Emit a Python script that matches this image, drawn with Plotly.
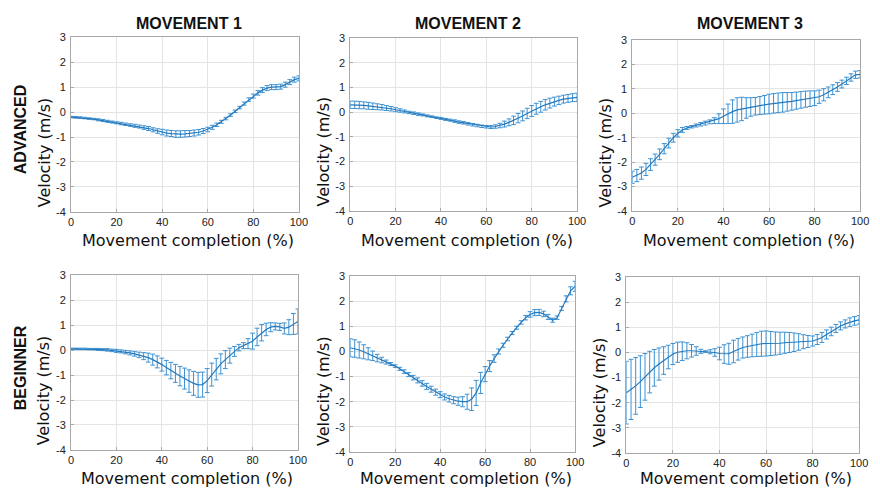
import plotly.graph_objects as go

# ---------------- data ----------------
PCT = [0, 2, 4, 6, 8, 10, 12, 14, 16, 18, 20, 22, 24, 26, 28, 30, 32, 34, 36, 38, 40,
       42, 44, 46, 48, 50, 52, 54, 56, 58, 60, 62, 64, 66, 68, 70, 72, 74, 76, 78, 80,
       82, 84, 86, 88, 90, 92, 94, 96, 98, 100]

MOVEMENTS = ["MOVEMENT 1", "MOVEMENT 2", "MOVEMENT 3"]
GROUPS = ["ADVANCED", "BEGINNER"]
X_TICKS = [0, 20, 40, 60, 80, 100]
Y_TICKS = [-4, -3, -2, -1, 0, 1, 2, 3]
Y_TICK_TEXT = ["-4", "-3", "-2", "-1", "0", "1", "2", "3"]

adv_m1_mean = [-0.20, -0.21, -0.22, -0.24, -0.26, -0.28, -0.31, -0.34, -0.37, -0.40, -0.43,
               -0.46, -0.49, -0.52, -0.55, -0.58, -0.62, -0.66, -0.71, -0.76, -0.80,
               -0.84, -0.86, -0.88, -0.88, -0.87, -0.86, -0.84, -0.81, -0.76, -0.70,
               -0.61, -0.51, -0.39, -0.26, -0.12, 0.03, 0.18, 0.34, 0.50, 0.64,
               0.77, 0.88, 0.96, 1.00, 1.00, 1.02, 1.10, 1.20, 1.30, 1.35]
adv_m1_sd = [0.03, 0.03, 0.03, 0.03, 0.03, 0.03, 0.04, 0.04, 0.04, 0.04, 0.04,
             0.05, 0.05, 0.05, 0.06, 0.06, 0.07, 0.08, 0.08, 0.09, 0.11,
             0.12, 0.12, 0.13, 0.13, 0.13, 0.12, 0.12, 0.11, 0.10, 0.09,
             0.08, 0.07, 0.06, 0.05, 0.05, 0.05, 0.05, 0.06, 0.07, 0.08,
             0.09, 0.10, 0.10, 0.10, 0.10, 0.10, 0.10, 0.10, 0.10, 0.10]

adv_m2_mean = [0.30, 0.30, 0.29, 0.28, 0.26, 0.24, 0.22, 0.20, 0.17, 0.14, 0.10,
               0.07, 0.03, -0.01, -0.04, -0.08, -0.11, -0.15, -0.18, -0.22, -0.25,
               -0.29, -0.32, -0.36, -0.40, -0.43, -0.47, -0.51, -0.54, -0.57, -0.59,
               -0.60, -0.58, -0.54, -0.48, -0.41, -0.33, -0.24, -0.15, -0.05, 0.05,
               0.14, 0.22, 0.30, 0.37, 0.43, 0.48, 0.53, 0.56, 0.59, 0.60]
adv_m2_sd = [0.15, 0.15, 0.15, 0.14, 0.14, 0.13, 0.12, 0.11, 0.10, 0.09, 0.08,
             0.07, 0.06, 0.05, 0.05, 0.05, 0.04, 0.04, 0.03, 0.03, 0.04,
             0.04, 0.04, 0.05, 0.05, 0.05, 0.05, 0.05, 0.05, 0.05, 0.05,
             0.06, 0.07, 0.09, 0.12, 0.14, 0.17, 0.19, 0.20, 0.21, 0.22,
             0.22, 0.22, 0.21, 0.20, 0.18, 0.17, 0.16, 0.16, 0.16, 0.17]

adv_m3_mean = [-2.62, -2.55, -2.45, -2.30, -2.10, -1.90, -1.68, -1.45, -1.22, -1.00, -0.82,
               -0.68, -0.60, -0.55, -0.50, -0.45, -0.40, -0.35, -0.30, -0.22, -0.12,
               -0.02, 0.07, 0.14, 0.18, 0.22, 0.26, 0.29, 0.32, 0.35, 0.38,
               0.41, 0.43, 0.45, 0.47, 0.49, 0.52, 0.55, 0.58, 0.60, 0.62,
               0.68, 0.76, 0.86, 0.97, 1.08, 1.20, 1.33, 1.47, 1.58, 1.60]
adv_m3_sd = [0.25, 0.25, 0.25, 0.25, 0.24, 0.23, 0.22, 0.21, 0.20, 0.18, 0.15,
             0.10, 0.06, 0.05, 0.06, 0.07, 0.08, 0.08, 0.12, 0.20, 0.30,
             0.40, 0.48, 0.50, 0.48, 0.42, 0.38, 0.36, 0.37, 0.38, 0.40,
             0.40, 0.40, 0.40, 0.38, 0.36, 0.35, 0.34, 0.33, 0.32, 0.30,
             0.27, 0.25, 0.22, 0.20, 0.18, 0.16, 0.15, 0.15, 0.15, 0.15]

beg_m1_mean = [0.05, 0.05, 0.05, 0.05, 0.04, 0.04, 0.03, 0.02, 0.01, -0.01, -0.03,
               -0.05, -0.08, -0.11, -0.15, -0.19, -0.24, -0.30, -0.38, -0.47, -0.58,
               -0.70, -0.82, -0.93, -1.04, -1.14, -1.24, -1.33, -1.39, -1.38, -1.22,
               -0.98, -0.76, -0.55, -0.38, -0.22, -0.05, 0.10, 0.18, 0.26, 0.36,
               0.53, 0.70, 0.83, 0.92, 0.95, 0.93, 0.87, 0.92, 1.05, 1.15]
beg_m1_sd = [0.03, 0.03, 0.03, 0.03, 0.03, 0.03, 0.04, 0.04, 0.05, 0.05, 0.06,
             0.06, 0.07, 0.08, 0.09, 0.11, 0.14, 0.18, 0.22, 0.24, 0.26,
             0.29, 0.33, 0.36, 0.39, 0.42, 0.45, 0.48, 0.50, 0.50, 0.48,
             0.46, 0.43, 0.40, 0.36, 0.30, 0.20, 0.13, 0.12, 0.20, 0.32,
             0.35, 0.33, 0.25, 0.18, 0.14, 0.14, 0.22, 0.30, 0.42, 0.50]

beg_m2_mean = [0.15, 0.12, 0.06, -0.01, -0.09, -0.17, -0.26, -0.34, -0.42, -0.50, -0.58,
               -0.69, -0.80, -0.92, -1.04, -1.15, -1.27, -1.39, -1.50, -1.62, -1.72,
               -1.81, -1.88, -1.94, -1.98, -2.00, -2.00, -1.90, -1.65, -1.25, -0.90,
               -0.58, -0.28, 0.00, 0.25, 0.50, 0.74, 0.95, 1.16, 1.35, 1.48,
               1.55, 1.56, 1.50, 1.38, 1.25, 1.35, 1.72, 2.10, 2.42, 2.60]
beg_m2_sd = [0.36, 0.35, 0.32, 0.28, 0.24, 0.19, 0.15, 0.11, 0.08, 0.06, 0.05,
             0.06, 0.07, 0.08, 0.09, 0.10, 0.11, 0.12, 0.12, 0.12, 0.12,
             0.12, 0.13, 0.14, 0.16, 0.20, 0.30, 0.45, 0.50, 0.42, 0.30,
             0.22, 0.15, 0.10, 0.08, 0.07, 0.06, 0.06, 0.07, 0.09, 0.11,
             0.12, 0.12, 0.11, 0.10, 0.08, 0.07, 0.08, 0.12, 0.16, 0.20]

beg_m3_mean = [-1.60, -1.47, -1.33, -1.16, -0.97, -0.78, -0.61, -0.46, -0.32, -0.18, -0.06,
               0.01, 0.05, 0.07, 0.07, 0.06, 0.05, 0.04, 0.03, 0.00, -0.04,
               -0.06, -0.05, 0.04, 0.13, 0.20, 0.24, 0.28, 0.32, 0.35, 0.36,
               0.36, 0.36, 0.37, 0.39, 0.40, 0.41, 0.42, 0.43, 0.44, 0.46,
               0.52, 0.60, 0.72, 0.84, 0.96, 1.06, 1.14, 1.21, 1.26, 1.30]
beg_m3_sd = [1.25, 1.20, 1.13, 1.03, 0.93, 0.83, 0.73, 0.64, 0.55, 0.47, 0.42,
             0.40, 0.37, 0.32, 0.25, 0.17, 0.08, 0.03, 0.08, 0.15, 0.25,
             0.37, 0.42, 0.45, 0.43, 0.42, 0.43, 0.45, 0.48, 0.50, 0.50,
             0.48, 0.46, 0.44, 0.42, 0.40, 0.37, 0.33, 0.28, 0.24, 0.20,
             0.20, 0.20, 0.18, 0.17, 0.16, 0.16, 0.16, 0.17, 0.17, 0.17]

MEANS = [[adv_m1_mean, adv_m2_mean, adv_m3_mean], [beg_m1_mean, beg_m2_mean, beg_m3_mean]]
SDS = [[adv_m1_sd, adv_m2_sd, adv_m3_sd], [beg_m1_sd, beg_m2_sd, beg_m3_sd]]

# ---------------- layout geometry (pixels) ----------------
W, H = 880, 494
# panel boxes: (left, right, top, bottom)
BOXES = [[(69, 300, 32, 211), (352, 582, 33, 210), (638, 869, 35, 210)],
         [(69, 299, 276, 455), (352, 580, 277, 457), (632, 868, 278, 458)]]
XTITLE_Y = [240, 484]

LINE_COLOR = "#2479bd"
ERR_COLOR = "#3d91d2"
AX_FONT = "DejaVu Sans"
TICK_FONT = "Liberation Sans, Arial, sans-serif"

fig = go.Figure()
layout = dict(width=W, height=H, margin=dict(l=0, r=0, t=0, b=0),
              paper_bgcolor="white", plot_bgcolor="white", showlegend=False)
annotations = []

idx = 0
for r in range(2):
    for c in range(3):
        idx += 1
        xa = "x" if idx == 1 else f"x{idx}"
        ya = "y" if idx == 1 else f"y{idx}"
        l, rt, t, b = BOXES[r][c]
        fig.add_trace(go.Scatter(
            x=PCT, y=MEANS[r][c], xaxis=xa, yaxis=ya, mode="lines",
            line=dict(color=LINE_COLOR, width=1.2),
            error_y=dict(type="data", array=SDS[r][c], visible=True,
                         color=ERR_COLOR, thickness=1, width=2.4),
        ))
        axcommon = dict(showgrid=True, gridcolor="#e4e4e4", gridwidth=1,
                        showline=True, linecolor="#a8a8a8", linewidth=1, mirror=True,
                        ticks="inside", ticklen=3, tickcolor="#a8a8a8", zeroline=False,
                        tickfont=dict(family=TICK_FONT, size=11, color="#222"))
        layout["xaxis" if idx == 1 else f"xaxis{idx}"] = dict(
            axcommon, domain=[l / W, rt / W], range=[0, 100], tickvals=X_TICKS,
            anchor=ya, ticklabelstandoff=0)
        layout["yaxis" if idx == 1 else f"yaxis{idx}"] = dict(
            axcommon, domain=[1 - b / H, 1 - t / H], range=[-4, 3], tickvals=Y_TICKS,
            ticktext=Y_TICK_TEXT, anchor=xa, ticklabelstandoff=2)
        # axis titles
        annotations.append(dict(
            text="Movement completion (%)", xref="paper", yref="paper",
            x=(l + rt) / 2 / W + 3 / W, y=1 - XTITLE_Y[r] / H, showarrow=False,
            font=dict(family=AX_FONT, size=16, color="#111"), xanchor="center", yanchor="middle"))
        annotations.append(dict(
            text="Velocity (m/s)", xref="paper", yref="paper",
            x=(l - 27) / W, y=1 - ((t + b) / 2 + 28) / H, showarrow=False, textangle=-90,
            font=dict(family=AX_FONT, size=16, color="#111"), xanchor="center", yanchor="middle"))

# column titles
for c, name in enumerate(MOVEMENTS):
    l, rt, t, b = BOXES[0][c]
    annotations.append(dict(
        text=f"<b>{name}</b>", xref="paper", yref="paper",
        x=(l + rt) / 2 / W + 4 / W, y=1 - 18 / H, showarrow=False,
        font=dict(family="Liberation Sans, Arial, sans-serif", size=16, color="#111"),
        xanchor="center", yanchor="middle"))
# row titles
for r, name in enumerate(GROUPS):
    l, rt, t, b = BOXES[r][0]
    annotations.append(dict(
        text=f"<b>{name}</b>", xref="paper", yref="paper",
        x=18 / W, y=1 - ((t + b) / 2 + 5) / H, showarrow=False, textangle=-90,
        font=dict(family="Liberation Sans, Arial, sans-serif", size=16, color="#111"),
        xanchor="center", yanchor="middle"))

layout["annotations"] = annotations
fig.update_layout(**layout)
fig.write_html("out.html", config={"displayModeBar": False},
               post_script="document.body.style.margin='0';document.body.style.padding='0';")
